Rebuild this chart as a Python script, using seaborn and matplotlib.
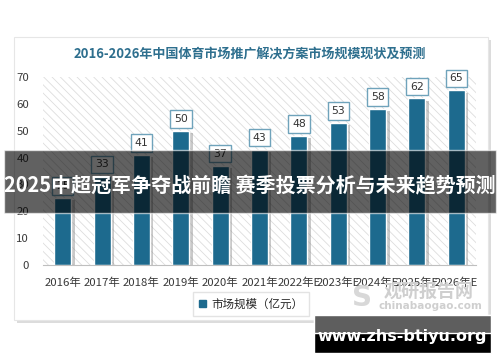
import pandas as pd
import seaborn as sns
import matplotlib.pyplot as plt
import matplotlib.patheffects as pe
from matplotlib.patches import Rectangle, Patch

years = ['2016年', '2017年', '2018年', '2019年', '2020年', '2021年',
         '2022年E', '2023年E', '2024年E', '2025年E', '2026年E']
market_size = [25, 33, 41, 50, 37, 43, 48, 53, 58, 62, 65]
title = '2016-2026年中国体育市场推广解决方案市场规模现状及预测'
legend_label = '市场规模（亿元）'
banner_text = '2025中超冠军争夺战前瞻 赛季投票分析与未来趋势预测'
site_text = 'www.zhs-btiyu.org'

df = pd.DataFrame({'year': years, 'value': market_size})

sns.set_style('white')
plt.rcParams['font.family'] = ['Noto Sans CJK SC', 'DejaVu Sans']
plt.rcParams['hatch.linewidth'] = 0.6

bar_color = '#1d6a8e'
fig = plt.figure(figsize=(5, 3.62), dpi=100)
fig.patch.set_facecolor('white')

# card with soft shadow
card = Rectangle((14 / 500, 1 - 320 / 362), 474 / 500, 283 / 362, transform=fig.transFigure,
                 facecolor='white', edgecolor='#e6e6e6', lw=0.8, zorder=-1,
                 path_effects=[pe.SimplePatchShadow(offset=(2, -2), shadow_rgbFace='#bbbbbb', alpha=0.5), pe.Normal()])
fig.patches.append(card)

ax = fig.add_axes([43 / 500, 1 - 265 / 362, 433 / 500, 188 / 362])
ax.set_zorder(1)
ax.set_facecolor('none')
ax.add_patch(Rectangle((0, 0), 1, 1, transform=ax.transAxes, facecolor='white',
                       edgecolor='#dddddd', hatch='\\\\\\\\', lw=0, zorder=0))

sns.barplot(data=df, x='year', y='value', color=bar_color, width=0.43, saturation=1, ax=ax, zorder=2)
for bar in ax.patches[1:]:
    bar.set_path_effects([pe.SimplePatchShadow(offset=(2.5, -1.5), shadow_rgbFace='#888888', alpha=0.45), pe.Normal()])

ax.bar_label(ax.containers[0], labels=[str(v) for v in market_size], padding=5, fontsize=7.8,
             color='#333333', fontfamily='DejaVu Sans',
             bbox=dict(boxstyle='square,pad=0.35', facecolor='white', edgecolor='#6fa3bb', lw=1))

ax.set_ylim(0, 70)
ax.set_yticks(range(0, 71, 10))
ax.set_xlim(-0.5, 10.5)
ax.set_xlabel('')
ax.set_ylabel('')
ax.tick_params(axis='both', labelsize=8.2, colors='#3a3a3a', length=0)
ax.tick_params(axis='y', pad=10)
ax.tick_params(axis='x', pad=9)
for s in ['top', 'right', 'left']:
    ax.spines[s].set_visible(False)
ax.spines['bottom'].set_color('#bfbfbf')

fig.text(0.5, 1 - 54 / 362, title, ha='center', va='center', fontsize=9.4, fontweight='bold', color='#2e6f8e')

fig.legend(handles=[Patch(color=bar_color, label=legend_label)], loc='center',
           bbox_to_anchor=(251 / 500, 1 - 304 / 362), fontsize=8.3, frameon=True, fancybox=False,
           edgecolor='#dddddd', handlelength=0.6, handleheight=0.6, handletextpad=0.5, borderpad=0.5)

# watermark
fig.text(429 / 500, 1 - 291 / 362, '观研报告网', ha='center', va='center', fontsize=13,
         fontweight='bold', color='#cfcfcf', zorder=3)
fig.text(430 / 500, 1 - 306 / 362, 'chinabaogao.com', ha='center', va='center', fontsize=7.5,
         color='#cfcfcf', fontfamily='DejaVu Sans', fontweight='bold', zorder=3)
fig.text(362 / 500, 1 - 298 / 362, 'S', ha='center', va='center', fontsize=20,
         color='#d8d8d8', fontweight='bold', fontfamily='DejaVu Sans', zorder=3)

# overlay banner
fig.patches.append(Rectangle((4 / 500, 1 - 213 / 362), 492 / 500, 63 / 362, transform=fig.transFigure,
                             facecolor='black', alpha=0.62, zorder=5))
fig.text(0.5, 1 - 186 / 362, banner_text, ha='center', va='center', fontsize=14.4,
         fontweight='bold', color='white', zorder=6)

# site box
fig.patches.append(Rectangle((314 / 500, 1 - 353 / 362), 177 / 500, 38 / 362, transform=fig.transFigure,
                             facecolor='black', zorder=5))
fig.patches.append(Rectangle((314 / 500, 1 - 333 / 362), 177 / 500, 18 / 362, transform=fig.transFigure,
                             facecolor='#5e5e5e', zorder=5))
fig.text(402 / 500, 1 - 337 / 362, site_text, ha='center', va='center', fontsize=11.5,
         fontweight='bold', color='white', fontfamily='DejaVu Sans', zorder=6)

fig.savefig('out.png', dpi=100)
